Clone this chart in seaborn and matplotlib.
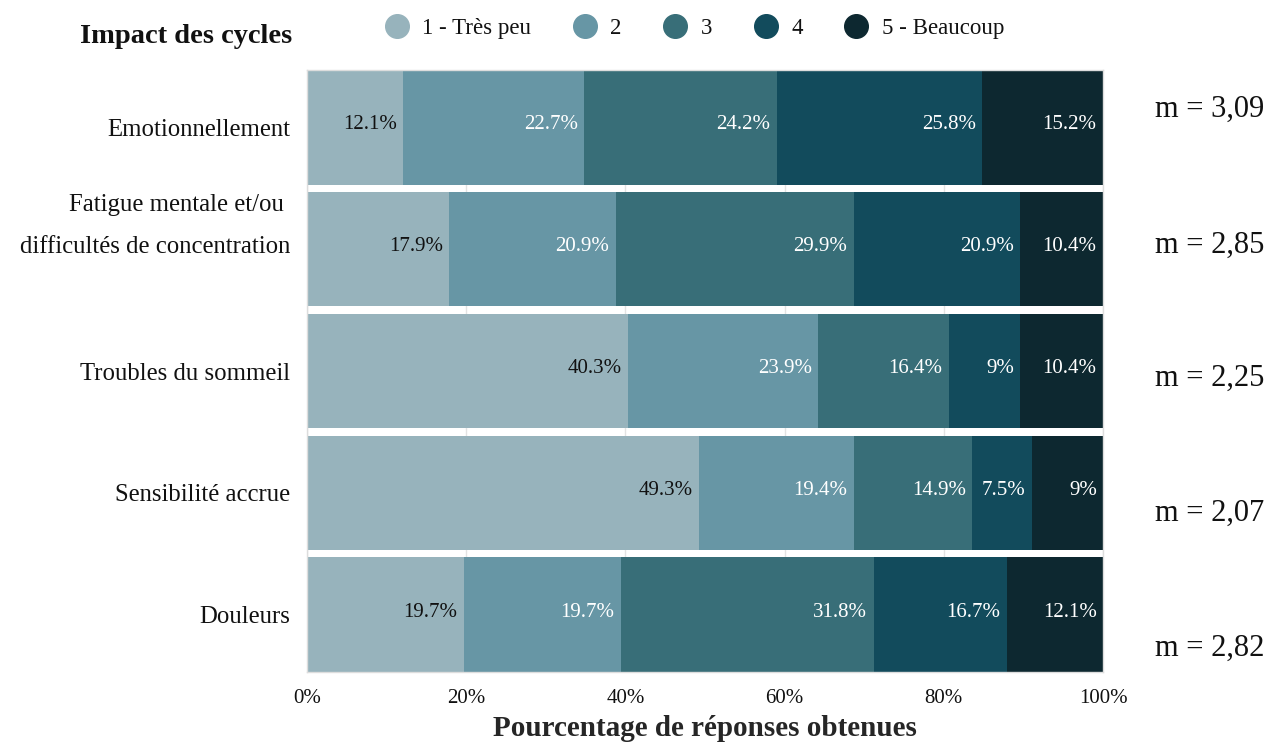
import numpy as np
import pandas as pd
import matplotlib.pyplot as plt
from matplotlib.lines import Line2D
from matplotlib.transforms import ScaledTranslation
import seaborn as sns

# Data
categories = ["Emotionnellement",
              "Fatigue mentale et/ou \ndifficultés de concentration",
              "Troubles du sommeil",
              "Sensibilité accrue",
              "Douleurs"]
levels = ["1 - Très peu", "2", "3", "4", "5 - Beaucoup"]
level_1 = [12.1, 17.9, 40.3, 49.3, 19.7]
level_2 = [22.7, 20.9, 23.9, 19.4, 19.7]
level_3 = [24.2, 29.9, 16.4, 14.9, 31.8]
level_4 = [25.8, 20.9, 9.0, 7.5, 16.7]
level_5 = [15.2, 10.4, 10.4, 9.0, 12.1]
means = ["3,09", "2,85", "2,25", "2,07", "2,82"]

colors = ["#97b3bc", "#6796a5", "#386e78", "#124b5c", "#0d2830"]
text_colors = ["#111111", "white", "white", "white", "white"]

df = pd.DataFrame({"categorie": categories, levels[0]: level_1, levels[1]: level_2,
                   levels[2]: level_3, levels[3]: level_4, levels[4]: level_5})
values = df[levels].to_numpy()
cum = values.cumsum(axis=1)

sns.set_theme(style="white")
plt.rcParams['font.family'] = ['Liberation Serif', 'DejaVu Serif']
plt.rcParams['text.color'] = '#111111'
plt.rcParams['xtick.color'] = '#111111'
plt.rcParams['ytick.color'] = '#111111'

fig = plt.figure(figsize=(12.69, 7.42), dpi=100)
ax = fig.add_axes([0.2419, 0.0943, 0.6273, 0.8114])

# stacked bars: draw cumulative totals from the largest down
for k in reversed(range(len(levels))):
    sns.barplot(x=cum[:, k], y=df["categorie"], color=colors[k], saturation=1,
                width=0.94, orient="h", ax=ax, zorder=2, linewidth=0)

# labels inside the segments, right aligned
for i in range(len(categories)):
    for k in range(len(levels)):
        v = values[i, k]
        ax.text(cum[i, k] - 0.8, i - 0.02, f"{v:g}%", ha="right", va="center",
                fontsize=15, color=text_colors[k], zorder=3)

ax.set_xlim(0, 100)
ax.set_ylim(len(categories) - 0.5 - 0.03, -0.5 + 0.03)
ax.set_xticks([0, 20, 40, 60, 80, 100])
ax.set_xticklabels([f"{t}%" for t in [0, 20, 40, 60, 80, 100]], fontsize=15)
ax.set_yticks(range(len(categories)))
# the two-line label is drawn by hand: its second line sits on the bar centre
ax.set_yticklabels([c if "\n" not in c else "" for c in categories], fontsize=17.8)
for i, c in enumerate(categories):
    if "\n" in c:
        ax.text(0, i, c, transform=ax.get_yaxis_transform()
                + ScaledTranslation(-0.17, 0.23, fig.dpi_scale_trans),
                ha="right", va="center", fontsize=17.8, linespacing=2.15)
ax.tick_params(axis="y", length=0, pad=12)
ax.tick_params(axis="x", length=0, pad=12)
ax.set_ylabel("")
ax.set_xlabel("Pourcentage de réponses obtenues", fontsize=21, fontweight="bold", labelpad=5)
ax.grid(axis="x", color="#e3e3e3", linewidth=1, zorder=0)
ax.set_axisbelow(True)
for s in ax.spines.values():
    s.set_color("#dddddd")
    s.set_linewidth(1)

# means on the right
m_y = [0.935, 0.708, 0.487, 0.263, 0.04]
for y, m in zip(m_y, means):
    ax.text(1.065, y, f"m = {m}", transform=ax.transAxes, fontsize=22,
            ha="left", va="center")

# title and legend
fig.text(0.063, 0.951, "Impact des cycles", fontsize=20.5, fontweight="bold",
         ha="left", va="center")
handles = [Line2D([0], [0], marker="o", linestyle="", markersize=17,
                  markerfacecolor=c, markeredgecolor=c) for c in colors]
fig.legend(handles, levels, loc="center", bbox_to_anchor=(0.543, 0.961), ncol=5,
           frameon=False, fontsize=16.5, handletextpad=0.1, columnspacing=1.35)

fig.savefig("out.png", dpi=100)
